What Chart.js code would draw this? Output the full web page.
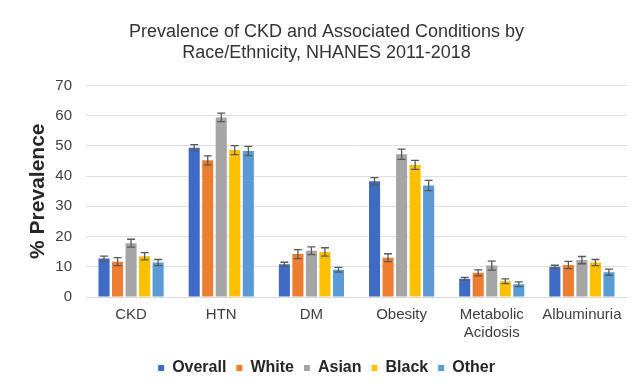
<!DOCTYPE html>
<html>
<head>
<meta charset="utf-8">
<script src="https://cdn.jsdelivr.net/npm/chart.js@4.4.1/dist/chart.umd.min.js"></script>
<style>
  html, body { margin: 0; padding: 0; background: #ffffff; }
  #wrap { width: 640px; height: 389px; }
</style>
</head>
<body>
<div id="wrap"><canvas id="chart" width="640" height="389"></canvas></div>
<script>

const categories = ["CKD", "HTN", "DM", "Obesity", ["Metabolic", "Acidosis"], "Albuminuria"]

const seriesNames = ["Overall", "White", "Asian", "Black", "Other"]

const overall = [12.7, 49.4, 10.8, 38.3, 6.0, 10.0]
const white   = [11.7, 45.2, 14.2, 13.0, 8.0, 10.6]
const asian   = [17.8, 59.4, 15.3, 47.2, 10.4, 12.2]
const black   = [13.5, 48.6, 14.9, 43.7, 5.2, 11.4]
const other   = [11.4, 48.3, 9.0, 36.9, 4.2, 8.2]

// half-width of the error bars
const overallErr = [0.8, 1.0, 0.7, 1.2, 0.5, 0.5]
const whiteErr   = [1.3, 1.5, 1.5, 1.3, 1.0, 1.2]
const asianErr   = [1.3, 1.4, 1.3, 1.7, 1.5, 1.2]
const blackErr   = [1.2, 1.5, 1.4, 1.5, 0.8, 1.0]
const otherErr   = [1.0, 1.5, 0.8, 1.7, 0.8, 1.0]

const yTicks = [0, 10, 20, 30, 40, 50, 60, 70]

const colors = ["#3F6BC4", "#ED7D31", "#A5A5A5", "#FFC000", "#5B9BD5"]

const values = [overall, white, asian, black, other]
const errors = [overallErr, whiteErr, asianErr, blackErr, otherErr]

const errorBars = {
    id: "errorBars",
    afterDatasetsDraw(chart){
        const ctx = chart.ctx
        const y = chart.scales.y
        ctx.save()
        ctx.strokeStyle = "#595959"
        ctx.lineWidth = 1.3
        chart.data.datasets.forEach((ds, i)=>{
            const meta = chart.getDatasetMeta(i)
            meta.data.forEach((bar, j)=>{
                const v = ds.data[j]
                const e = ds.errors[j]
                const top = y.getPixelForValue(v + e)
                const bot = y.getPixelForValue(v - e)
                ctx.beginPath()
                ctx.moveTo(bar.x, top)
                ctx.lineTo(bar.x, bot)
                ctx.moveTo(bar.x - 4, top)
                ctx.lineTo(bar.x + 4, top)
                ctx.moveTo(bar.x - 4, bot)
                ctx.lineTo(bar.x + 4, bot)
                ctx.stroke()
            })
        })
        ctx.restore()
    }
}

Chart.defaults.font.family = "'Liberation Sans', Arial, sans-serif"
Chart.defaults.color = "#404040"

new Chart(document.getElementById("chart"), {
    type: "bar",
    data: {
        labels: categories,
        datasets: seriesNames.map((name, i)=>({
            label: name,
            data: values[i],
            errors: errors[i],
            backgroundColor: colors[i],
            borderWidth: 0,
            categoryPercentage: 0.75,
            barPercentage: 0.82
        }))
    },
    options: {
        responsive: false,
        animation: false,
        layout: { padding: { left: 26, right: 13, top: 8, bottom: 3 } },
        plugins: {
            title: {
                display: true,
                text: ["Prevalence of CKD and Associated Conditions by", "Race/Ethnicity, NHANES 2011-2018"],
                color: "#333333",
                font: { size: 18, weight: "normal", lineHeight: 1.15 },
                padding: { top: 14, bottom: 22 }
            },
            legend: {
                position: "bottom",
                labels: {
                    boxWidth: 6,
                    boxHeight: 6,
                    padding: 10,
                    color: "#262626",
                    font: { size: 16, weight: "bold" }
                }
            },
            tooltip: { enabled: false }
        },
        scales: {
            x: {
                grid: { display: false },
                border: { color: "#d9d9d9" },
                afterFit: (axis)=>{ axis.height += 7 },
                ticks: { color: "#404040", font: { size: 15 }, padding: 1, maxRotation: 0 }
            },
            y: {
                min: 0,
                max: 70,
                afterBuildTicks: (axis)=>{ axis.ticks = yTicks.map(v=>({ value: v })) },
                afterFit: (axis)=>{ axis.width = 60 },
                grid: { color: "#e0e0e0", drawTicks: false },
                border: { display: false },
                ticks: { color: "#404040", font: { size: 15 }, padding: 14 },
                title: {
                    display: true,
                    text: "% Prevalence",
                    color: "#262626",
                    font: { size: 21, weight: "bold" },
                    padding: 0
                }
            }
        }
    },
    plugins: [errorBars]
})
</script>
</body>
</html>
